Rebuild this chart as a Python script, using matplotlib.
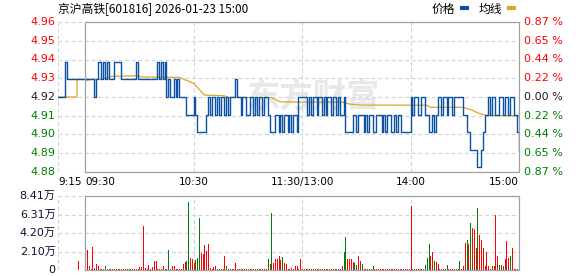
import matplotlib
matplotlib.use("Agg")
import matplotlib.pyplot as plt
from matplotlib.lines import Line2D

plt.rcParams['font.family'] = ['DejaVu Sans', 'Noto Sans CJK SC']

# 标题与坐标标签
title = "京沪高铁[601816] 2026-01-23 15:00"
prev_close = 4.92
pct_max = 0.87
price_labels = ['4.96', '4.95', '4.94', '4.93', '4.92', '4.91', '4.90', '4.89', '4.88']
pct_labels = ['0.87 %', '0.65 %', '0.44 %', '0.22 %', '0.00 %', '0.22 %', '0.44 %', '0.65 %', '0.87 %']
vol_max = 8.41
vol_labels = ['0', '2.10万', '4.20万', '6.31万', '8.41万']
time_labels = ['9:15', '09:30', '10:30', '11:30/13:00', '14:00', '15:00']
time_pos = [-15, 0, 60, 120, 180, 240]

# 集合竞价 9:15-9:29
pre_price = [4.92, 4.92, 4.92, 4.92, 4.94,
             4.93, 4.93, 4.93, 4.93, 4.93, 4.93, 4.93, 4.93, 4.93, 4.93]

# 分时价格 9:30 ... 15:00 (241 点)
price = [
    4.93, 4.93, 4.93, 4.93, 4.93, 4.92, 4.93, 4.94, 4.94, 4.93,
    4.94, 4.93, 4.94, 4.93, 4.93, 4.93, 4.94, 4.94, 4.94, 4.94,
    4.93, 4.93, 4.93, 4.93, 4.93, 4.93, 4.93, 4.93, 4.94, 4.93,
    4.93, 4.93, 4.93, 4.93, 4.93, 4.93, 4.93, 4.93, 4.93, 4.93,
    4.94, 4.93, 4.94, 4.93, 4.94, 4.92, 4.93, 4.92, 4.92, 4.93,
    4.92, 4.93, 4.92, 4.92, 4.92, 4.92, 4.91, 4.91, 4.91, 4.91,
    4.92, 4.91, 4.90, 4.90, 4.90, 4.90, 4.90, 4.91, 4.92, 4.91,
    4.92, 4.92, 4.91, 4.92, 4.91, 4.92, 4.92, 4.91, 4.92, 4.91,
    4.92, 4.92, 4.92, 4.93, 4.92, 4.92, 4.91, 4.92, 4.92, 4.91,
    4.91, 4.92, 4.92, 4.91, 4.92, 4.91, 4.92, 4.92, 4.91, 4.92,
    4.92, 4.91, 4.90, 4.90, 4.90, 4.91, 4.91, 4.90, 4.91, 4.90,
    4.91, 4.91, 4.90, 4.91, 4.90, 4.91, 4.91, 4.90, 4.92, 4.92,
    4.92, 4.92, 4.92, 4.91, 4.92, 4.91, 4.92, 4.92, 4.91, 4.92,
    4.92, 4.91, 4.92, 4.91, 4.92, 4.92, 4.91, 4.92, 4.92, 4.91,
    4.92, 4.91, 4.91, 4.92, 4.90, 4.90, 4.90, 4.90, 4.91, 4.91,
    4.90, 4.91, 4.91, 4.91, 4.90, 4.91, 4.90, 4.91, 4.91, 4.90,
    4.90, 4.91, 4.91, 4.91, 4.90, 4.91, 4.90, 4.91, 4.91, 4.90,
    4.90, 4.91, 4.90, 4.91, 4.91, 4.90, 4.90, 4.90, 4.90, 4.90,
    4.92, 4.91, 4.92, 4.92, 4.91, 4.91, 4.92, 4.92, 4.91, 4.91,
    4.90, 4.90, 4.91, 4.90, 4.91, 4.92, 4.92, 4.91, 4.92, 4.92,
    4.91, 4.92, 4.92, 4.91, 4.92, 4.92, 4.92, 4.92, 4.92, 4.91,
    4.91, 4.90, 4.90, 4.89, 4.89, 4.89, 4.89, 4.88, 4.88, 4.89,
    4.90, 4.91, 4.91, 4.92, 4.91, 4.92, 4.92, 4.91, 4.91, 4.92,
    4.92, 4.91, 4.92, 4.92, 4.91, 4.92, 4.92, 4.91, 4.91, 4.90,
    4.89,
]

# 均线 (分钟, 价格)
avg_minutes = [-15, -4.5, -4.5, 0, 1, 3, 9, 15, 28, 32, 52, 56, 60, 66,
               77, 79, 103, 108, 143, 146, 152, 189, 191, 209, 214, 218, 222, 240]
avg_price = [4.92, 4.92, 4.93, 4.93, 4.9295, 4.9300, 4.9301, 4.9318, 4.9321, 4.9314,
             4.9312, 4.9295, 4.9278, 4.9211, 4.9207, 4.9198, 4.9196, 4.9172, 4.9170,
             4.9160, 4.9154, 4.9153, 4.9141, 4.9141, 4.9125, 4.9106, 4.9095, 4.9093]

# 成交量(万手), 9:25 竞价 + 9:31..15:00
auction_minute = -4
auction_vol = 1.05
volume = [
    2.3, 0.5, 0.15, 2.6, 0.2, 0.7, 0.5, 0.1, 0.1, 0.1,
    0.5, 0.1, 0.1, 0.1, 0.1, 0.1, 0.1, 0.1, 0.1, 0.1,
    0.1, 0.1, 0.1, 0.1, 0.1, 0.1, 0.1, 0.1, 0.1, 0.3,
    0.35, 5.0, 0.2, 0.1, 0.6, 0.15, 0.3, 1.05, 1.05, 0.1,
    0.1, 0.15, 0.4, 0.15, 0.1, 2.3, 0.15, 0.4, 0.4, 0.1,
    0.1, 0.1, 0.15, 0.7, 0.9, 1.0, 7.7, 1.4, 1.3, 0.8,
    1.1, 1.4, 5.9, 1.95, 1.85, 2.85, 2.2, 3.0, 0.2, 0.15,
    0.3, 0.4, 0.1, 0.1, 0.15, 0.1, 1.55, 0.4, 0.15, 0.1,
    0.1, 0.1, 0.75, 0.15, 0.1, 0.1, 0.1, 0.1, 0.1, 0.1,
    0.1, 0.1, 0.1, 0.1, 0.1, 0.1, 0.1, 0.1, 0.1, 0.1,
    1.2, 0.65, 6.5, 0.85, 1.3, 1.3, 1.6, 1.15, 1.5, 0.85,
    0.65, 0.15, 0.15, 0.2, 0.1, 0.4, 0.4, 0.1, 1.3, 0.1,
    0.1, 0.1, 0.1, 0.1, 0.1, 0.1, 0.1, 0.1, 0.1, 0.1,
    0.1, 0.1, 0.1, 0.1, 0.1, 0.1, 0.1, 0.1, 0.1, 0.1,
    0.1, 0.5, 2.0, 3.8, 1.3, 1.3, 1.3, 0.9, 0.8, 0.6,
    1.55, 1.05, 0.65, 0.15, 0.1, 0.1, 0.1, 0.1, 0.5, 0.1,
    0.1, 0.1, 0.1, 0.1, 0.1, 0.1, 0.1, 0.1, 0.1, 0.1,
    0.1, 0.1, 0.1, 0.1, 0.1, 0.1, 0.1, 0.1, 0.1, 7.25,
    0.1, 0.1, 0.1, 0.1, 0.1, 0.1, 0.1, 0.6, 1.4, 3.0,
    1.55, 2.0, 1.0, 0.9, 0.65, 0.15, 0.1, 0.1, 0.1, 0.6,
    0.15, 0.1, 0.1, 0.1, 0.1, 0.15, 1.0, 0.15, 0.4, 3.1,
    3.45, 3.0, 5.3, 4.8, 4.7, 2.5, 7.1, 4.0, 3.45, 2.5,
    0.5, 2.1, 0.4, 0.15, 0.4, 0.5, 6.3, 1.6, 0.55, 0.6,
    0.5, 1.3, 3.35, 1.4, 1.6, 2.5, 0.15, 0.15, 0.1, 2.4,
]
# r = 上涨, g = 下跌
vol_colors = ("rrrrrrrrgr" "grrgrrrgrr" "rrrgrrrrrr" "rrrrrrrrrr"
              "rrrrrgrrrr" "rrrrrggrrr" "gggrrrrrrr" "rrrgrrrgrr"
              "rrrrrgrrrr" "rrrrgrrrrr" "grgrrrrrgr" "rrrrrrrrrr"
              "rrrrgrrrrr" "rrrgrrrrrr" "rrggrrrrgg" "rrgrrrrrgr"
              "rrrrrrrrrr" "rrrrrrrrrr" "rrrrrrrggg" "rrgrrrrrrg"
              "rrrrrrgrrr" "grgrrrgrrr" "rrrrrgrrgr" "grrrgrrrrg")

UP = '#ff0000'
DOWN = '#008000'
FLAT = '#202020'
BLUE = '#0c52a4'
GOLD = '#dca42c'
GRID = '#d2d2d2'
FRAME = '#a0a0a0'
DASH = (0, (3.5, 2.5))

fig = plt.figure(figsize=(5.78, 2.76), dpi=100)
ax = fig.add_axes([58 / 578, 104 / 276, 461 / 578, 150 / 276])
axv = fig.add_axes([58 / 578, 6 / 276, 461 / 578, 74 / 276])

lo = prev_close * (1 - pct_max / 100)
hi = prev_close * (1 + pct_max / 100)
levels = [hi - i * (hi - lo) / 8 for i in range(9)]

# 价格区
ax.set_xlim(-15, 240)
ax.set_ylim(lo, hi)
ax.set_axis_off()
ax.hlines(levels, -15, 240, colors=GRID, lw=0.8, linestyles=DASH, zorder=1)
ax.vlines([-15, 60, 120, 180], lo, hi, colors=GRID, lw=0.8, linestyles=DASH, zorder=1)
ax.plot([0, 240, 240, 0, 0], [lo, lo, hi, hi, lo], color=FRAME, lw=0.9, clip_on=False, zorder=5)
ax.text(126, 4.9195, '东方财富', fontsize=24, fontweight='bold', color='#e8e8e8',
        ha='center', va='center', family=['Noto Sans CJK SC'], zorder=0)

ax.plot(avg_minutes, avg_price, color=GOLD, lw=0.9, zorder=3)
x_all = list(range(-15, 0)) + list(range(len(price)))
ax.plot(x_all, pre_price + price, color=BLUE, lw=1.0, drawstyle='steps-post', zorder=4)

for i, (lv, pl, cl) in enumerate(zip(levels, price_labels, pct_labels)):
    col = UP if i < 4 else (FLAT if i == 4 else DOWN)
    ax.text(-16.3, lv, pl, ha='right', va='center', fontsize=8, color=col)
    ax.text(242.8, lv, cl, ha='left', va='center', fontsize=8, color=col)

aligns = ['left', 'left', 'center', 'center', 'center', 'right']
for pos, lab, ha in zip(time_pos, time_labels, aligns):
    ax.annotate(lab, (pos, lo), xytext=(0, -3.5), textcoords='offset points',
                ha=ha, va='top', fontsize=7.5, color='#000000')

# 成交量区
axv.set_xlim(-15, 240)
axv.set_ylim(0, vol_max)
axv.set_axis_off()
vlevels = [i * vol_max / 4 for i in range(5)]
axv.hlines(vlevels, -15, 240, colors=GRID, lw=0.8, linestyles=DASH, zorder=1)
axv.vlines([-15, 60, 120, 180], 0, vol_max, colors=GRID, lw=0.8, linestyles=DASH, zorder=1)
axv.plot([0, 240, 240, 0, 0], [0, 0, vol_max, vol_max, 0], color=FRAME, lw=0.9,
         clip_on=False, zorder=5)
minutes = list(range(1, len(volume) + 1))
cols = [UP if c == 'r' else DOWN for c in vol_colors]
axv.vlines(minutes, 0, volume, colors=cols, lw=0.55, antialiased=False, zorder=3)
axv.vlines([auction_minute], 0, [auction_vol], colors=UP, lw=0.55, antialiased=False, zorder=3)
for v, lab in zip(vlevels, vol_labels):
    axv.text(-16.3, v, lab, ha='right', va='center', fontsize=8, color='#101030')

# 标题与图例
fig.text(58 / 578, 1 - 9 / 276, title, ha='left', va='center', fontsize=8.5,
         family=['Noto Sans CJK SC'], color='#000000')
handles = [Line2D([], [], color=BLUE, lw=3), Line2D([], [], color=GOLD, lw=3)]
fig.legend(handles, ['价格', '均线'], loc='center right', bbox_to_anchor=(514 / 578, 1 - 9 / 276),
           ncol=2, frameon=False, markerfirst=False, handlelength=0.45, handletextpad=0.6,
           columnspacing=0.9, borderpad=0, borderaxespad=0,
           prop={'family': ['Noto Sans CJK SC'], 'size': 8.5})

fig.savefig('out.png', dpi=100)
